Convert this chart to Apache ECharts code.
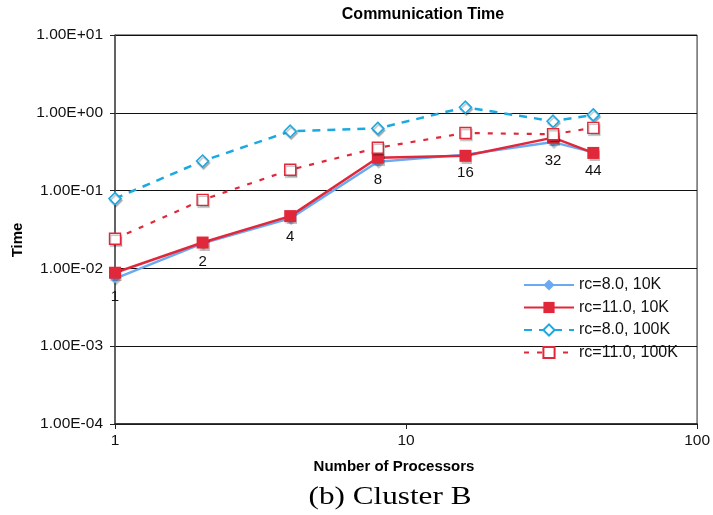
<!DOCTYPE html>
<html>
<head>
<meta charset="utf-8">
<script src="https://cdn.jsdelivr.net/npm/echarts@6/dist/echarts.min.js"></script>
<style>
  html, body { margin: 0; padding: 0; background: #fff; }
  #chart { width: 713px; height: 515px; }
</style>
</head>
<body>
<div id="chart"></div>
<script>
// Communication time vs. number of processors (log-log)
const procs = [1, 2, 4, 8, 16, 32, 44];
const rc8_10k = [0.0074, 0.021, 0.044, 0.235, 0.29, 0.42, 0.31];
const rc11_10k = [0.0088, 0.0215, 0.047, 0.265, 0.28, 0.48, 0.305];
const rc8_100k = [0.079, 0.24, 0.58, 0.63, 1.18, 0.78, 0.94];
const rc11_100k = [0.024, 0.076, 0.185, 0.355, 0.55, 0.53, 0.64];
const seriesNames = ['rc=8.0, 10K', 'rc=11.0, 10K', 'rc=8.0, 100K', 'rc=11.0, 100K'];

const FONT = 'Liberation Sans, Arial, sans-serif';

function pairs(ys) {
  return procs.map((p, i) => [p, ys[i]]);
}

function sciLabel(v) {
  const e = Math.round(Math.log10(v));
  const sign = e < 0 ? '-' : '+';
  const a = Math.abs(e);
  return '1.00E' + sign + (a < 10 ? '0' + a : String(a));
}

const shadow = { shadowColor: 'rgba(0,0,0,0.25)', shadowOffsetX: 1, shadowOffsetY: 2, shadowBlur: 1 };

const chart = echarts.init(document.getElementById('chart'), null, { renderer: 'canvas' });

chart.setOption({
  animation: false,
  backgroundColor: '#ffffff',
  grid: {
    left: 115, right: 13, top: 35, bottom: 91,
    show: true, borderColor: '#222', borderWidth: 1, backgroundColor: 'transparent'
  },
  legend: {
    orient: 'vertical',
    left: 518, top: 272,
    itemWidth: 50, itemHeight: 14, itemGap: 6.5,
    textStyle: { fontFamily: FONT, fontSize: 16, color: '#111' },
    data: seriesNames
  },
  graphic: [
    { type: 'text', x: 423, y: 15, style: { text: 'Communication Time', font: 'bold 16px ' + FONT, fill: '#000', textAlign: 'center', textVerticalAlign: 'middle' } },
    { type: 'text', x: 394, y: 467, style: { text: 'Number of Processors', font: 'bold 15px ' + FONT, fill: '#000', textAlign: 'center', textVerticalAlign: 'middle' } },
    { type: 'text', x: 18, y: 240, rotation: Math.PI / 2, style: { text: 'Time', font: 'bold 15px ' + FONT, fill: '#000', textAlign: 'center', textVerticalAlign: 'middle' } },
    { type: 'text', x: 390, y: 497, scaleX: 1.2, style: { text: '(b) Cluster B', font: '26px Liberation Serif, DejaVu Serif, serif', fill: '#000', textAlign: 'center', textVerticalAlign: 'middle' } }
  ],
  xAxis: {
    type: 'log', logBase: 10, min: 1, max: 100,
    axisLine: { show: true, lineStyle: { color: '#222', width: 1.5 } },
    axisTick: { show: true, length: 5, lineStyle: { color: '#222' } },
    axisLabel: { fontFamily: FONT, fontSize: 15.5, color: '#111', margin: 9 },
    splitLine: { show: false }
  },
  yAxis: {
    type: 'log', logBase: 10, min: 0.0001, max: 10,
    axisLine: { show: true, lineStyle: { color: '#555', width: 1.5 } },
    axisTick: { show: true, length: 5, lineStyle: { color: '#222' } },
    axisLabel: { fontFamily: FONT, fontSize: 15.5, color: '#111', margin: 12, formatter: sciLabel },
    splitLine: { show: true, lineStyle: { color: '#111', width: 1 } }
  },
  series: [
    {
      name: seriesNames[0], type: 'line', data: pairs(rc8_10k), z: 2,
      symbol: 'diamond', symbolSize: 10,
      lineStyle: { color: '#6aaaf2', width: 2.5 },
      itemStyle: Object.assign({ color: '#6aaaf2' }, shadow),
      label: {
        show: true, position: 'bottom', distance: 6,
        fontFamily: FONT, fontSize: 15, color: '#111',
        formatter: p => String(p.value[0])
      }
    },
    {
      name: seriesNames[1], type: 'line', data: pairs(rc11_10k), z: 3,
      symbol: 'rect', symbolSize: 12,
      lineStyle: { color: '#e1283a', width: 2.5 },
      itemStyle: Object.assign({ color: '#e1283a' }, shadow)
    },
    {
      name: seriesNames[2], type: 'line', data: pairs(rc8_100k), z: 4,
      symbol: 'diamond', symbolSize: 12, showAllSymbol: true,
      lineStyle: { color: '#1ba9e1', width: 2.5, type: [8, 7] },
      itemStyle: Object.assign({ color: '#ffffff', borderColor: '#1ba9e1', borderWidth: 1.6 }, shadow)
    },
    {
      name: seriesNames[3], type: 'line', data: pairs(rc11_100k), z: 4,
      symbol: 'rect', symbolSize: 11,
      lineStyle: { color: '#e1283a', width: 2.2, type: [5, 8] },
      itemStyle: Object.assign({ color: '#ffffff', borderColor: '#e1283a', borderWidth: 1.4 }, shadow)
    }
  ]
});
</script>
</body>
</html>
